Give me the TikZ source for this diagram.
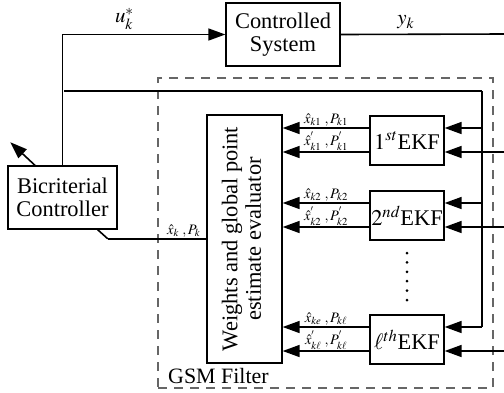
\documentclass[tikz,border=0pt]{standalone}
\usepackage{mathptmx}
\usepackage{fontspec}
\setmainfont{Liberation Serif}
\usetikzlibrary{arrows.meta}

\tikzset{
  blk/.style={draw,line width=1.3bp,inner sep=0pt,align=center,font=\fontsize{22.5}{23.5}\selectfont},
  ekf/.style={blk,minimum width=74bp,minimum height=49bp},
  pt/.style={inner sep=0pt,minimum size=0pt},
  sig/.style={line width=1.6bp},
  arr/.style={sig,-{Triangle[length=17bp,width=12bp]}},
  lbl/.style={font=\fontsize{14.5}{15}\selectfont,inner sep=0pt},
  dot/.style={circle,fill,inner sep=0pt,minimum size=3bp}
}

\begin{document}
\begin{tikzpicture}[x=1bp,y=-1bp]
      \useasboundingbox (0,0) rectangle (504,392);%

      \node[draw=gray!80!black,line width=1.2bp,dash pattern=on 9bp off 7bp,
        minimum width=335bp,minimum height=310bp] (GSM) at (325.5,233) {};%
      \node[anchor=base west,font=\fontsize{22}{24}\selectfont,inner sep=0pt]
        (GSMT) at (168,383.5) {GSM Filter};%

      \node[blk,minimum width=114bp,minimum height=63bp] (SYS) at (283,34.5)
        {Controlled\\System};%
      \node[blk,minimum width=109bp,minimum height=63bp] (CTRL) at (62.5,197.5)
        {Bicriterial\\Controller};%
      \node[blk,minimum width=75bp,minimum height=248bp] (WTS) at (244.5,239)
        {\rotatebox{90}{\begin{tabular}{@{}c@{}}Weights and global point\\
          estimate evaluator\end{tabular}}};%

      \node[ekf] (EKF1) at (407,140.5) {$1^{st}$EKF};%
      \node[ekf] (EKF2) at (407,215.5) {$2^{nd}$EKF};%
      \node[ekf] (EKFL) at (407,339.5) {$\ell^{th}$EKF};%

      \node[dot] (D1) at (407,253) {};%
      \node[dot] (D2) at (407,262.4) {};%
      \node[dot] (D3) at (407,271.8) {};%
      \node[dot] (D4) at (407,281.2) {};%
      \node[dot] (D5) at (407,290.6) {};%
      \node[dot] (D6) at (407,300) {};%

      \node[pt] (A1) at (10,142) {};%
      \node[pt] (YR) at (504,34) {};%
      \node[pt] (F1) at (108,239) {};%
      \node[pt] (U1) at (64,91) {};%
      \node[pt] (U2) at (482,91) {};%
      \node[pt] (J1) at (482,128) {};%
      \node[pt] (J2) at (482,203) {};%
      \node[pt] (J3) at (482,327) {};%
      \node[pt] (R1) at (504,152) {};%
      \node[pt] (R2) at (504,227) {};%
      \node[pt] (R3) at (504,351) {};%

      \draw[arr] (CTRL.north) |- (SYS.west)
        node[pos=0.69,above=1bp,font=\fontsize{21}{22}\selectfont] {$u_k^*$};%
      \draw[sig] (SYS.east) -- (YR)
        node[pos=0.4,above=1bp,font=\fontsize{21}{22}\selectfont] {$y_k$};%
      \draw[arr] ([xshift=-27.5bp]CTRL.north) -- (A1);%
      \draw[sig] ([xshift=-20bp]CTRL.south east) -- (F1) -- (WTS.west |- F1)
        node[pos=0.77,above=1bp,lbl] {$\hat{x}_k\;, P_k$};%

      \draw[sig] (U1) -- (U2) -- (J3);%
      \draw[arr] (J1) -- (EKF1.east |- J1);%
      \draw[arr] (J2) -- (EKF2.east |- J2);%
      \draw[arr] (J3) -- (EKFL.east |- J3);%
      \draw[arr] (R1) -- (EKF1.east |- R1);%
      \draw[arr] (R2) -- (EKF2.east |- R2);%
      \draw[arr] (R3) -- (EKFL.east |- R3);%

      \draw[arr] (EKF1.west |- J1) -- (WTS.east |- J1)
        node[midway,above=1bp,lbl] {$\hat{x}_{k1}\;, P_{k1}$};%
      \draw[arr] (EKF1.west |- R1) -- (WTS.east |- R1)
        node[midway,above=1bp,lbl] {$\hat{x}^{'}_{k1}\;, P^{'}_{k1}$};%
      \draw[arr] (EKF2.west |- J2) -- (WTS.east |- J2)
        node[midway,above=1bp,lbl] {$\hat{x}_{k2}\;, P_{k2}$};%
      \draw[arr] (EKF2.west |- R2) -- (WTS.east |- R2)
        node[midway,above=1bp,lbl] {$\hat{x}^{'}_{k2}\;, P^{'}_{k2}$};%
      \draw[arr] (EKFL.west |- J3) -- (WTS.east |- J3)
        node[midway,above=1bp,lbl] {$\hat{x}_{ke}\;, P_{k\ell}$};%
      \draw[arr] (EKFL.west |- R3) -- (WTS.east |- R3)
        node[midway,above=1bp,lbl] {$\hat{x}^{'}_{k\ell}\;, P^{'}_{k\ell}$};%
    \end{tikzpicture}
\end{document}
